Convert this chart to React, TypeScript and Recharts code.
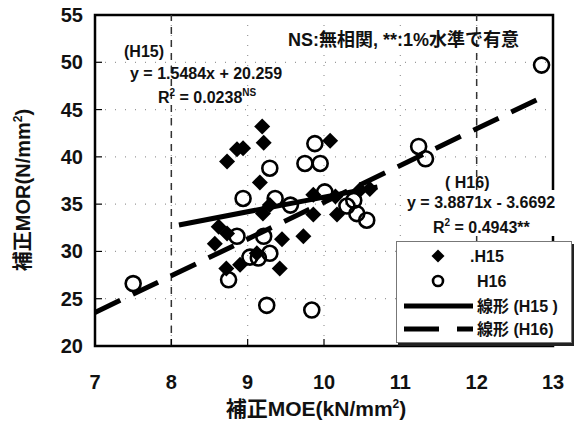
import React from 'react';
import {
  ScatterChart, Scatter, XAxis, YAxis, CartesianGrid, ReferenceLine,
  ReferenceArea,
} from 'recharts';

// H15 (◆) と H16 (○) の補正MOE と 補正MOR
const h15Moe = [8.73, 8.86, 8.94, 9.19, 9.21, 9.16, 10.08, 9.29, 9.86, 10.15, 10.47, 10.6,
  9.86, 10.17, 9.73, 9.45, 8.62, 8.57, 8.73, 9.12, 8.9, 8.72, 9.42, 9.2];
const h15Mor = [39.5, 40.8, 40.9, 43.2, 41.5, 37.3, 41.7, 34.9, 36.0, 35.8, 36.5, 36.6,
  33.9, 33.9, 31.6, 31.3, 32.6, 30.8, 31.9, 29.8, 28.6, 28.2, 28.2, 34.0];
const h16Moe = [7.5, 12.85, 11.24, 11.33, 9.88, 9.75, 9.95, 9.29, 8.94, 9.36, 9.56, 10.01,
  10.39, 10.43, 10.56, 8.86, 9.21, 9.03, 9.14, 9.29, 8.75, 9.25, 9.84, 10.3];
const h16Mor = [26.6, 49.7, 41.1, 39.8, 41.4, 39.3, 39.3, 38.8, 35.6, 35.6, 34.9, 36.3,
  35.4, 34.0, 33.3, 31.6, 31.6, 29.4, 29.3, 29.8, 27.0, 24.3, 23.8, 34.8];

// 近似直線 (図中の式) と その範囲
const h15Fit = { a: 1.5484, b: 20.259, from: 8.1, to: 10.7 };
const h16Fit = { a: 3.8871, b: -3.6692, from: 7.0, to: 12.92 };

const xTicks = [7, 8, 9, 10, 11, 12, 13];
const yTicks = [20, 25, 30, 35, 40, 45, 50, 55];

const FONT = '"Liberation Sans", "Noto Sans CJK JP", sans-serif';

const h15 = h15Moe.map((x, i) => ({ x, y: h15Mor[i] }));
const h16 = h16Moe.map((x, i) => ({ x, y: h16Mor[i] }));
const seg = (f: typeof h15Fit) => [
  { x: f.from, y: f.a * f.from + f.b },
  { x: f.to, y: f.a * f.to + f.b },
];

function Diamond({ cx, cy, r = 8 }: any) {
  return <polygon points={`${cx},${cy - r} ${cx + r},${cy} ${cx},${cy + r} ${cx - r},${cy}`} fill="#000" />;
}
function Ring({ cx, cy, r = 7.5 }: any) {
  return <circle cx={cx} cy={cy} r={r} fill="none" stroke="#000" strokeWidth={2.6} />;
}

function YTick({ x, y, payload }: any) {
  return (
    <g>
      <line x1={x} x2={x + 7} y1={y} y2={y} stroke="#000" strokeWidth={1.2} />
      <text x={x - 12} y={y} dy={7} textAnchor="end" fontSize={20} fontWeight={700} fontFamily={FONT} fill="#111">
        {payload.value}
      </text>
    </g>
  );
}
function XTick({ x, y, payload }: any) {
  return (
    <g>
      <line x1={x} x2={x} y1={y} y2={y - 7} stroke="#000" strokeWidth={1.2} />
      <text x={x} y={y + 43} textAnchor="middle" fontSize={20} fontWeight={700} fontFamily={FONT} fill="#111">
        {payload.value}
      </text>
    </g>
  );
}

function LegendBox() {
  const row = { fontSize: 16, fontWeight: 700, fontFamily: FONT, fill: '#111' } as const;
  return (
    <div style={{
      position: 'absolute', left: 396, top: 241, width: 176, height: 102,
      background: '#fff', border: '1px solid #777',
      boxShadow: '2px 3px 0 #222', boxSizing: 'border-box',
    }}>
      <svg width={174} height={100} style={{ display: 'block' }}>
        <Diamond cx={41} cy={14} r={6.5} />
        <text x={73} y={20} {...row}>.H15</text>
        <Ring cx={41} cy={39} r={5} />
        <text x={80} y={45} {...row}>H16</text>
        <line x1={7} x2={76} y1={64} y2={64} stroke="#000" strokeWidth={5} />
        <text x={80} y={70} {...row}>線形 (H15 )</text>
        <line x1={7} x2={76} y1={87} y2={87} stroke="#000" strokeWidth={5} strokeDasharray="35 18" />
        <text x={80} y={93} {...row}>線形 (H16)</text>
      </svg>
    </div>
  );
}

export default function App() {
  const ann = { fontFamily: FONT, fontWeight: 700, fill: '#111' } as const;
  return (
    <div style={{ position: 'absolute', left: 0, top: 0, width: 577, height: 423, background: '#fff' }}>
      <ScatterChart width={577} height={423} margin={{ top: 15, right: 24, bottom: 37, left: 35 }}>
        <CartesianGrid stroke="#999" strokeDasharray="1 9" strokeWidth={1.2} />
        <XAxis
          type="number" dataKey="x" domain={[7, 13]} ticks={xTicks} height={40}
          tickSize={0} tickMargin={0} axisLine={false} tick={<XTick />} allowDataOverflow
        />
        <YAxis
          type="number" dataKey="y" domain={[20, 55]} ticks={yTicks} width={60}
          tickSize={0} tickMargin={0} axisLine={false} tick={<YTick />} allowDataOverflow
        />
        <ReferenceLine x={8} stroke="#333" strokeWidth={1.5} strokeDasharray="7 6" />
        <ReferenceLine x={12} stroke="#333" strokeWidth={1.5} strokeDasharray="7 6" />
        <Scatter name=".H15" data={h15} shape={<Diamond />} isAnimationActive={false} />
        <Scatter name="H16" data={h16} shape={<Ring />} isAnimationActive={false} />
        <ReferenceLine segment={seg(h15Fit)} stroke="#000" strokeWidth={5} />
        <ReferenceLine segment={seg(h16Fit)} stroke="#000" strokeWidth={5} strokeDasharray="28 14" />
        <ReferenceArea x1={7} x2={13} y1={20} y2={55} fill="none" stroke="#000" strokeWidth={2.5} fillOpacity={0} ifOverflow="visible" />
      </ScatterChart>
      <svg width={577} height={423} style={{ position: 'absolute', left: 0, top: 0, pointerEvents: 'none' }}>
        <text x={124} y={57} fontSize={16} {...ann}>(H15)</text>
        <text x={130} y={79} fontSize={16} {...ann}>y = 1.5484x + 20.259</text>
        <text x={158} y={103} fontSize={16} {...ann}>
          R<tspan dy={-7} fontSize={10}>2</tspan><tspan dy={7}> = 0.0238</tspan>
          <tspan dy={-7} fontSize={10}>NS</tspan>
        </text>
        <text x={288} y={46} fontSize={18} {...ann}>NS:無相関, **:1%水準で有意</text>
        <rect x={404} y={190} width={166} height={46} fill="#fff" />
        <text x={445} y={188} fontSize={16} {...ann}>( H16)</text>
        <text x={407} y={208} fontSize={16} {...ann}>y = 3.8871x - 3.6692</text>
        <text x={433} y={233} fontSize={16} {...ann}>
          R<tspan dy={-7} fontSize={10}>2</tspan><tspan dy={7}> = 0.4943**</tspan>
        </text>
        <text x={316} y={416} textAnchor="middle" fontSize={21} {...ann}>
          補正MOE(kN/mm<tspan dy={-8} fontSize={12}>2</tspan><tspan dy={8}>)</tspan>
        </text>
        <text transform="translate(30,190) rotate(-90)" textAnchor="middle" fontSize={20} {...ann}>
          補正MOR(N/mm<tspan dy={-8} fontSize={12}>2</tspan><tspan dy={8}>)</tspan>
        </text>
      </svg>
      <LegendBox />
    </div>
  );
}
